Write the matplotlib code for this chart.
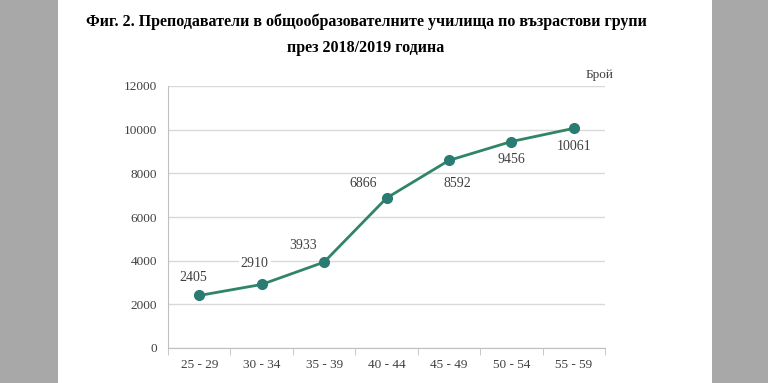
import matplotlib.pyplot as plt
from matplotlib.patches import Rectangle

# Teachers in general schools by age group, 2018/2019
age_groups = ['25 - 29', '30 - 34', '35 - 39', '40 - 44', '45 - 49', '50 - 54', '55 - 59']
teachers = [2405, 2910, 3933, 6866, 8592, 9456, 10061]
y_ticks = [0, 2000, 4000, 6000, 8000, 10000, 12000]

# label offsets in pixels (dx, dy) relative to each point
label_offsets = [(-6, 18), (-7, 21), (-21, 17), (-23, 15), (8, -23), (0, -18), (0, -18)]

plt.rcParams['font.family'] = ['Liberation Serif', 'DejaVu Serif']

fig = plt.figure(figsize=(7.68, 3.83), dpi=100)
fig.patch.set_facecolor('#a8a8a8')
# white page between the gray side bars
fig.patches.append(Rectangle((58 / 768, 0), (712 - 58) / 768, 1, transform=fig.transFigure,
                             facecolor='white', edgecolor='none', zorder=-10))

fig.text(366 / 768, 1 - 22 / 383, 'Фиг. 2. Преподаватели в общообразователните училища по възрастови групи',
         ha='center', va='center', fontsize=11.5, fontweight='bold', color='black')
fig.text(366 / 768, 1 - 48 / 383, 'през 2018/2019 година',
         ha='center', va='center', fontsize=11.5, fontweight='bold', color='black')
fig.text(600 / 768, 1 - 75 / 383, 'Брой', ha='center', va='center', fontsize=9.5, color='#404040')

ax = fig.add_axes([168 / 768, 1 - 348 / 383, (605 - 168) / 768, (348 - 86) / 383])
x = list(range(len(age_groups)))
ax.plot(x, teachers, color='#2f8565', linewidth=2, zorder=3)
ax.plot(x, teachers, 'o', color='#2a7b72', markersize=7, zorder=4)

for xi, v, (dx, dy) in zip(x, teachers, label_offsets):
    ax.annotate(str(v), (xi, v), xytext=(dx, dy), textcoords='offset pixels',
                ha='center', va='center', fontsize=10, color='#404040', zorder=5,
                bbox=dict(boxstyle='square,pad=0.15', facecolor='white', edgecolor='none'))

ax.set_xlim(-0.5, len(age_groups) - 0.5)
ax.set_ylim(0, 12000)
ax.set_yticks(y_ticks)
ax.set_yticklabels([str(t) for t in y_ticks], fontsize=9.5, color='#404040')
ax.set_xticks(x)
ax.set_xticklabels(age_groups, fontsize=9.5, color='#404040')
ax.set_xticks([i - 0.5 for i in range(len(age_groups) + 1)], minor=True)
ax.tick_params(axis='x', which='major', length=0, pad=8)
ax.tick_params(axis='x', which='minor', length=5, color='#bfbfbf')
ax.tick_params(axis='y', length=0, pad=8)

ax.grid(axis='y', color='#d9d9d9', linewidth=1)
ax.set_axisbelow(True)
for side in ['top', 'right']:
    ax.spines[side].set_visible(False)
ax.spines['left'].set_color('#bfbfbf')
ax.spines['bottom'].set_color('#bfbfbf')
ax.set_facecolor('white')

fig.savefig('out.png', dpi=100, facecolor=fig.get_facecolor())
